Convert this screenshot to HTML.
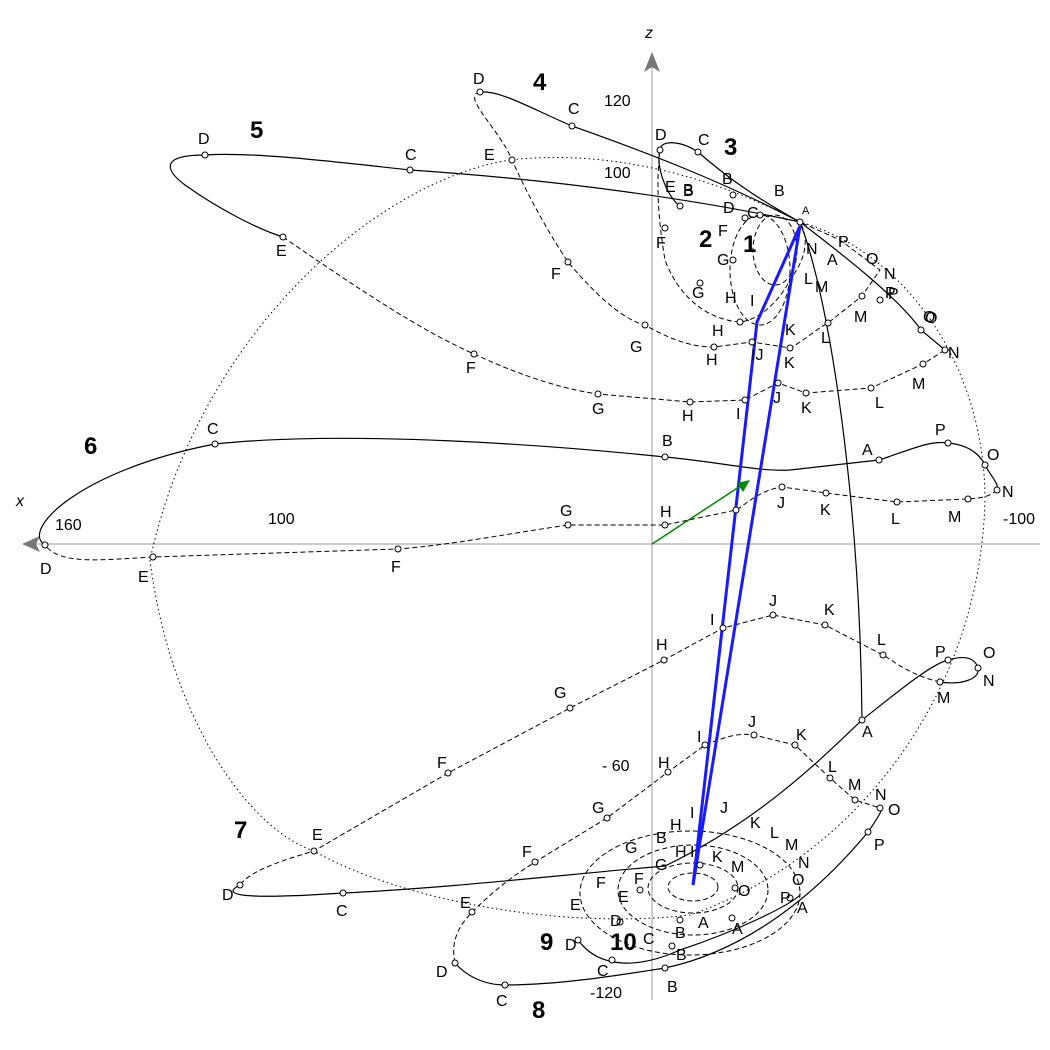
<!DOCTYPE html>
<html><head><meta charset="utf-8"><style>
html,body{margin:0;padding:0;background:#fff}
svg{display:block}
text{font-family:"Liberation Sans",sans-serif;font-size:16px;fill:#000}
.b{font-weight:bold;font-size:24px}
.s{fill:none;stroke:#000;stroke-width:1.2}
.d{fill:none;stroke:#000;stroke-width:1;stroke-dasharray:5,3}
.o{fill:none;stroke:#000;stroke-width:1;stroke-dasharray:1.5,3}
circle{fill:#fff;stroke:#000;stroke-width:1}
</style></head><body>
<svg width="1050" height="1050" viewBox="0 0 1050 1050" xmlns="http://www.w3.org/2000/svg">
<line x1="30" y1="544" x2="1040" y2="544" stroke="#999" stroke-width="1"/>
<line x1="652" y1="60" x2="652" y2="1000" stroke="#999" stroke-width="1"/>
<polygon points="22,544 40,536 36,544 40,552" fill="#777"/>
<polygon points="652,52 644,72 652,67 660,72" fill="#777"/>
<text x="645" y="38" font-style="italic">z</text>
<text x="16" y="506" font-style="italic">x</text>
<text x="604" y="106">120</text><text x="604" y="178">100</text>
<text x="55" y="530">160</text><text x="268" y="524">100</text><text x="1003" y="524">-100</text>
<text x="602" y="771">- 60</text><text x="590" y="998">-120</text>

<path class="o" d="M510,160 C380,180 200,330 150,560 C170,720 250,830 314,851 C400,900 560,930 690,915 C850,860 980,700 985,500 C985,360 900,250 800,222 C700,170 600,150 510,160 Z"/>

<path class="s" d="M800,222 C720,180 640,150 572,126 C530,108 500,90 480,92"/>
<path class="d" d="M480,92 C460,95 500,130 512,160 C530,200 550,235 568,262 C600,300 625,320 645,325 C680,345 700,347 714,347 L752,342 L790,348 C805,340 815,330 828,323 L862,296 L880,270 L840,240 L800,222"/>
<path class="s" d="M800,222 C700,200 560,180 410,170 C320,160 250,152 205,155 C160,155 165,170 185,185 C220,210 260,230 283,237"/>
<path class="s" d="M800,222 C850,260 900,300 921,330 L945,350"/>
<path class="d" d="M283,237 C360,290 420,330 474,354 C530,380 570,390 598,394 L690,402 L745,400 L778,383 L806,393 L871,388 L923,364 L945,350"/>
<path class="s" d="M45,545 C20,530 80,470 215,444 C350,430 550,445 665,457 C720,462 760,472 790,470 L879,460 C910,450 930,440 948,443 C970,445 980,455 985,465 C990,475 1000,485 997,490"/>
<path class="d" d="M997,490 C990,497 980,498 968,499 L897,502 L826,493 L782,487 C760,490 745,505 736,510 L665,525 L568,525 C500,535 450,545 398,549 L153,557 C100,560 60,565 45,545"/>
<path class="s" d="M240,885 C220,895 240,900 343,893 C450,888 560,875 665,866 C760,820 820,760 862,720 C900,690 930,665 948,660 C965,655 975,658 978,668 C980,680 960,685 940,682"/>
<path class="d" d="M940,682 C910,675 895,662 883,655 L825,625 L773,615 L723,628 L664,660 L570,708 L448,773 L314,851 C290,858 250,870 240,885"/>
<path class="s" d="M455,963 C470,980 490,985 505,985 C560,985 620,975 665,968 C750,950 820,890 868,832 C880,815 885,805 880,808"/>
<path class="d" d="M455,963 C450,940 460,925 472,912 C500,885 515,875 535,862 L607,818 L668,772 L705,745 C730,735 740,733 754,735 L795,745 L830,778 L855,800 L880,808"/>
<ellipse class="d" cx="690" cy="893" rx="110" ry="62"/>
<ellipse class="d" cx="693" cy="890" rx="75" ry="45"/>
<ellipse class="d" cx="693" cy="888" rx="45" ry="25"/>
<ellipse class="d" cx="693" cy="887" rx="25" ry="14"/>
<path class="s" d="M578,940 C600,970 640,968 680,950 C740,930 790,905 800,895"/>
<path class="s" d="M800,222 C760,200 730,180 698,152 C680,140 660,140 660,150 C655,170 670,200 680,206"/>
<path class="d" d="M660,150 C655,190 660,230 665,260 C680,300 710,320 740,322 C760,320 780,300 790,280 C805,260 810,240 800,222"/>
<ellipse class="d" cx="760" cy="270" rx="30" ry="55"/>
<ellipse class="d" cx="775" cy="250" rx="22" ry="35"/>
<path class="s" d="M800,222 C830,300 860,500 862,720"/>

<g stroke="#1a1aff" stroke-width="3" fill="none">
<line x1="800" y1="226" x2="693" y2="885"/>
<polyline points="800,226 757,322 693,885"/>
</g>
<line x1="652" y1="544" x2="742" y2="485" stroke="#080" stroke-width="1.5"/>
<polygon points="750,480 737,483 743,492" fill="#080"/>

<g>
<circle cx="480" cy="92" r="3"/><circle cx="572" cy="126" r="3"/><circle cx="512" cy="160" r="3"/><circle cx="568" cy="262" r="3"/><circle cx="645" cy="325" r="3"/><circle cx="714" cy="347" r="3"/><circle cx="752" cy="342" r="3"/><circle cx="790" cy="348" r="3"/><circle cx="828" cy="323" r="3"/><circle cx="862" cy="296" r="3"/>
<circle cx="205" cy="155" r="3"/><circle cx="410" cy="170" r="3"/><circle cx="680" cy="206" r="3"/><circle cx="283" cy="237" r="3"/><circle cx="474" cy="354" r="3"/><circle cx="598" cy="394" r="3"/><circle cx="690" cy="402" r="3"/><circle cx="745" cy="400" r="3"/><circle cx="778" cy="383" r="3"/><circle cx="806" cy="393" r="3"/><circle cx="871" cy="388" r="3"/><circle cx="923" cy="364" r="3"/><circle cx="945" cy="350" r="3"/><circle cx="921" cy="330" r="3"/><circle cx="880" cy="300" r="3"/>
<circle cx="45" cy="545" r="3"/><circle cx="215" cy="444" r="3"/><circle cx="665" cy="457" r="3"/><circle cx="879" cy="460" r="3"/><circle cx="948" cy="443" r="3"/><circle cx="985" cy="465" r="3"/><circle cx="997" cy="490" r="3"/><circle cx="968" cy="499" r="3"/><circle cx="897" cy="502" r="3"/><circle cx="826" cy="493" r="3"/><circle cx="782" cy="487" r="3"/><circle cx="736" cy="510" r="3"/><circle cx="665" cy="525" r="3"/><circle cx="568" cy="525" r="3"/><circle cx="398" cy="549" r="3"/><circle cx="153" cy="557" r="3"/>
<circle cx="240" cy="885" r="3"/><circle cx="343" cy="893" r="3"/><circle cx="862" cy="720" r="3"/><circle cx="948" cy="660" r="3"/><circle cx="978" cy="668" r="3"/><circle cx="940" cy="682" r="3"/><circle cx="883" cy="655" r="3"/><circle cx="825" cy="625" r="3"/><circle cx="773" cy="615" r="3"/><circle cx="723" cy="628" r="3"/><circle cx="664" cy="660" r="3"/><circle cx="570" cy="708" r="3"/><circle cx="448" cy="773" r="3"/><circle cx="314" cy="851" r="3"/>
<circle cx="455" cy="963" r="3"/><circle cx="505" cy="985" r="3"/><circle cx="665" cy="968" r="3"/><circle cx="868" cy="832" r="3"/><circle cx="880" cy="808" r="3"/><circle cx="472" cy="912" r="3"/><circle cx="535" cy="862" r="3"/><circle cx="607" cy="818" r="3"/><circle cx="668" cy="772" r="3"/><circle cx="705" cy="745" r="3"/><circle cx="754" cy="735" r="3"/><circle cx="795" cy="745" r="3"/><circle cx="830" cy="778" r="3"/><circle cx="855" cy="800" r="3"/>
<circle cx="660" cy="150" r="3"/><circle cx="698" cy="152" r="3"/><circle cx="733" cy="195" r="3"/><circle cx="665" cy="228" r="3"/><circle cx="700" cy="283" r="3"/><circle cx="740" cy="322" r="3"/><circle cx="800" cy="222" r="3"/><circle cx="760" cy="215" r="3"/><circle cx="745" cy="218" r="3"/><circle cx="733" cy="260" r="3"/>
<circle cx="578" cy="940" r="3"/><circle cx="612" cy="960" r="3"/><circle cx="672" cy="946" r="3"/><circle cx="732" cy="918" r="3"/><circle cx="790" cy="898" r="3"/><circle cx="620" cy="922" r="3"/><circle cx="640" cy="890" r="3"/><circle cx="680" cy="920" r="3"/><circle cx="735" cy="888" r="3"/><circle cx="700" cy="865" r="3"/>
</g>

<g>
<text x="473" y="84">D</text><text x="568" y="114">C</text><text x="484" y="160">E</text><text x="551" y="279">F</text><text x="630" y="352">G</text><text x="706" y="365">H</text><text x="751" y="360">IJ</text><text x="784" y="368">K</text><text x="821" y="343">L</text><text x="854" y="322">M</text>
<text x="198" y="144">D</text><text x="405" y="160">C</text><text x="683" y="196">B</text><text x="276" y="256">E</text><text x="466" y="373">F</text><text x="592" y="414">G</text><text x="682" y="421">H</text><text x="736" y="419">I</text><text x="773" y="403">J</text><text x="801" y="413">K</text><text x="875" y="408">L</text><text x="912" y="389">M</text><text x="948" y="358">N</text><text x="923" y="322">O</text><text x="885" y="298">P</text>
<text x="40" y="574">D</text><text x="207" y="434">C</text><text x="662" y="446">B</text><text x="862" y="455">A</text><text x="935" y="435">P</text><text x="987" y="460">O</text><text x="1002" y="497">N</text><text x="948" y="522">M</text><text x="891" y="524">L</text><text x="820" y="515">K</text><text x="777" y="508">J</text><text x="660" y="517">H</text><text x="560" y="516">G</text><text x="391" y="572">F</text><text x="138" y="582">E</text>
<text x="222" y="900">D</text><text x="336" y="916">C</text><text x="862" y="737">A</text><text x="935" y="657">P</text><text x="983" y="658">O</text><text x="983" y="686">N</text><text x="937" y="703">M</text><text x="877" y="645">L</text><text x="824" y="615">K</text><text x="769" y="606">J</text><text x="710" y="625">I</text><text x="656" y="650">H</text><text x="554" y="698">G</text><text x="437" y="768">F</text><text x="312" y="840">E</text>
<text x="436" y="977">D</text><text x="496" y="1006">C</text><text x="667" y="992">B</text><text x="874" y="850">P</text><text x="888" y="815">O</text><text x="875" y="800">N</text><text x="848" y="790">M</text><text x="828" y="772">L</text><text x="796" y="740">K</text><text x="748" y="727">J</text><text x="697" y="742">I</text><text x="658" y="768">H</text><text x="592" y="813">G</text><text x="522" y="857">F</text><text x="460" y="908">E</text>
<text x="655" y="140">D</text><text x="698" y="145">C</text><text x="722" y="184">B</text><text x="774" y="196">B</text><text x="665" y="192">E</text><text x="683" y="195">B</text><text x="723" y="213">D</text><text x="747" y="218">C</text><text x="656" y="248">F</text><text x="718" y="236">F</text><text x="717" y="265">G</text><text x="692" y="298">G</text><text x="725" y="303">H</text><text x="750" y="306">I</text><text x="712" y="336">H</text><text x="785" y="335">K</text><text x="804" y="284">L</text><text x="815" y="292">M</text><text x="806" y="254">N</text><text x="827" y="265">A</text><text x="802" y="214" style="font-size:11px">A</text><text x="838" y="247">P</text><text x="866" y="264">O</text><text x="884" y="279">N</text><text x="888" y="299">P</text><text x="925" y="323">O</text>
<text x="565" y="950">D</text><text x="597" y="976">C</text><text x="643" y="944">C</text><text x="675" y="938">B</text><text x="676" y="960">B</text><text x="698" y="928">A</text><text x="732" y="934">A</text><text x="797" y="913">A</text><text x="780" y="903">P</text><text x="798" y="868">N</text><text x="792" y="885">O</text><text x="785" y="850">M</text><text x="770" y="838">L</text><text x="750" y="828">K</text><text x="720" y="813">J</text><text x="690" y="818">I</text><text x="670" y="830">H</text><text x="656" y="843">B</text><text x="625" y="853">G</text><text x="655" y="870">G</text><text x="675" y="857">H</text><text x="690" y="857">I</text><text x="712" y="862">K</text><text x="731" y="872">M</text><text x="738" y="896">O</text><text x="634" y="884">F</text><text x="596" y="888">F</text><text x="618" y="902">E</text><text x="570" y="910">E</text><text x="610" y="926">D</text>
<text x="533" y="90" class="b">4</text><text x="250" y="138" class="b">5</text><text x="724" y="155" class="b">3</text><text x="699" y="247" class="b">2</text><text x="743" y="252" class="b">1</text><text x="84" y="454" class="b">6</text><text x="234" y="838" class="b">7</text><text x="532" y="1018" class="b">8</text><text x="540" y="950" class="b">9</text><text x="610" y="950" class="b">10</text>
</g>
</svg>
</body></html>
